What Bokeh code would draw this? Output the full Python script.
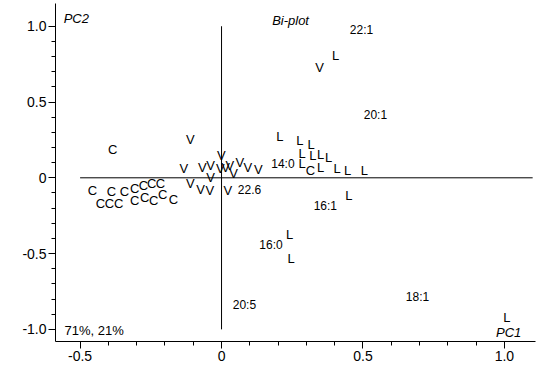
from bokeh.plotting import figure
from bokeh.models import Range1d, FixedTicker, ColumnDataSource
from bokeh.core.properties import value
from bokeh.embed import file_html
from bokeh.resources import INLINE

FONT = "Liberation Sans"

# --- data (PC1, PC2 scores / loadings) ---
c_x = [-0.385, -0.456, -0.389, -0.343, -0.307, -0.276, -0.247, -0.216,
       -0.428, -0.396, -0.364, -0.307, -0.272, -0.240, -0.208, -0.170, 0.314]
c_y = [0.188, -0.083, -0.089, -0.089, -0.069, -0.050, -0.036, -0.036,
       -0.168, -0.168, -0.168, -0.149, -0.129, -0.149, -0.109, -0.142, 0.050]

v_x = [-0.110, -0.133, -0.068, -0.039, -0.110, -0.074, -0.041, -0.001,
       -0.004, 0.014, 0.029, 0.043, 0.065, 0.093, 0.130, 0.022, -0.039, 0.347]
v_y = [0.254, 0.061, 0.071, 0.083, -0.038, -0.078, -0.083, 0.144,
       0.061, 0.071, 0.083, 0.028, 0.098, 0.067, 0.054, -0.087, 0.001, 0.727]

l_x = [0.403, 0.206, 0.277, 0.317, 0.285, 0.323, 0.350, 0.379, 0.285,
       0.350, 0.409, 0.446, 0.505, 0.450, 0.241, 0.246, 1.009]
l_y = [0.809, 0.274, 0.243, 0.221, 0.160, 0.149, 0.155, 0.137, 0.094,
       0.067, 0.061, 0.050, 0.045, -0.116, -0.373, -0.533, -0.92]

var_labels = ["22:1", "20:1", "14:0", "22.6", "16:1", "16:0", "20:5", "18:1"]
var_x = [0.495, 0.544, 0.217, 0.099, 0.367, 0.175, 0.081, 0.693]
var_y = [0.974, 0.413, 0.089, -0.078, -0.188, -0.446, -0.842, -0.789]

x_ticks = [-0.5, 0.0, 0.5, 1.0]
x_tick_labels = ["-0.5", "0", "0.5", "1.0"]
y_ticks = [-1.0, -0.5, 0.0, 0.5, 1.0]
y_tick_labels = ["-1.0", "-0.5", "0", "0.5", "1.0"]
x_minor = [-0.5 + 0.1 * i for i in range(16)]
y_minor = [-1.0 + 0.1 * i for i in range(21)]

hline_x = [-0.5, 1.1]
hline_y = [0.0, 0.0]
vline_x = [0.0, 0.0]
vline_y = [-1.0, 1.0]

explained = "71%, 21%"

p = figure(width=539, height=367, output_backend="svg", toolbar_location=None,
           x_range=Range1d(-0.587, 1.11), y_range=Range1d(-1.08, 1.15),
           min_border_left=55, min_border_bottom=26, min_border_top=3,
           min_border_right=4)
p.outline_line_color = None
p.xgrid.visible = False
p.ygrid.visible = False
p.background_fill_color = "white"
p.border_fill_color = "white"

p.xaxis.ticker = FixedTicker(ticks=x_ticks, minor_ticks=x_minor)
p.yaxis.ticker = FixedTicker(ticks=y_ticks, minor_ticks=y_minor)
p.xaxis.major_label_overrides = dict(zip(x_ticks, x_tick_labels))
p.yaxis.major_label_overrides = dict(zip(y_ticks, y_tick_labels))
for ax in (p.xaxis, p.yaxis):
    ax.axis_line_color = "black"
    ax.major_tick_line_color = "black"
    ax.minor_tick_line_color = "black"
    ax.major_tick_out = 7
    ax.major_tick_in = 0
    ax.minor_tick_out = 4
    ax.minor_tick_in = 0
    ax.major_label_text_font = FONT
    ax.major_label_text_font_size = "14px"
    ax.major_label_text_color = "black"
    ax.major_label_standoff = 2

# cross lines
p.line(hline_x, hline_y, line_color="black", line_width=1)
p.line(vline_x, vline_y, line_color="black", line_width=1)

def letters(xs, ys, ch):
    src = ColumnDataSource(dict(x=xs, y=ys, t=[ch] * len(xs)))
    p.text("x", "y", text="t", source=src, text_align="center",
           text_baseline="middle", text_font=value(FONT),
           text_font_size="13px", text_color="black")

letters(c_x, c_y, "C")
letters(v_x, v_y, "V")
letters(l_x, l_y, "L")

lab_src = ColumnDataSource(dict(x=var_x, y=var_y, t=var_labels))
p.text("x", "y", text="t", source=lab_src, text_align="center",
       text_baseline="middle", text_font=value(FONT),
       text_font_size="12px", text_color="black")

# decorative titles
p.text(x=[-0.558], y=[1.053], text=["PC2"], text_align="left",
       text_baseline="middle", text_font=value(FONT), text_font_style="italic",
       text_font_size="13px", text_color="black")
p.text(x=[0.244], y=[1.04], text=["Bi-plot"], text_align="center",
       text_baseline="middle", text_font=value(FONT), text_font_style="italic",
       text_font_size="13px", text_color="black")
p.text(x=[1.015], y=[-1.02], text=["PC1"], text_align="center",
       text_baseline="middle", text_font=value(FONT), text_font_style="italic",
       text_font_size="13px", text_color="black")
p.text(x=[-0.555], y=[-1.007], text=[explained], text_align="left",
       text_baseline="middle", text_font=value(FONT),
       text_font_size="13px", text_color="black")

open("out.html", "w").write(file_html(p, INLINE))
